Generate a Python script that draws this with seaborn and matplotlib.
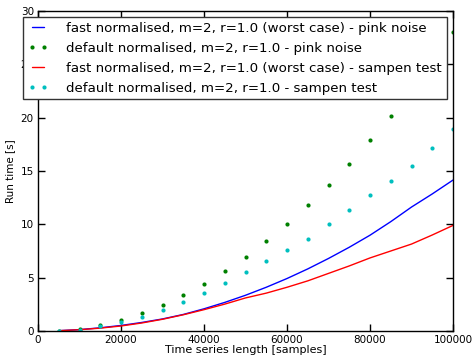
import numpy as np
import pandas as pd
import matplotlib
matplotlib.use("Agg")
import matplotlib.pyplot as plt
import seaborn as sns

# time series lengths (samples)
lengths = [5000, 10000, 15000, 20000, 25000, 30000, 35000, 40000, 45000, 50000,
           55000, 60000, 65000, 70000, 75000, 80000, 85000, 90000, 95000, 100000]

# run times [s]
fast_pink = [0.03, 0.13, 0.30, 0.52, 0.80, 1.13, 1.55, 2.08, 2.68, 3.35,
             4.10, 4.92, 5.82, 6.80, 7.85, 8.98, 10.25, 11.62, 12.85, 14.15]
default_pink = [0.03, 0.20, 0.56, 1.06, 1.69, 2.47, 3.37, 4.43, 5.62, 6.94,
                8.44, 10.03, 11.78, 13.68, 15.70, 17.87, 20.20, 23.0, 25.5, 28.0]
fast_sampen = [0.03, 0.12, 0.27, 0.47, 0.75, 1.10, 1.52, 2.00, 2.52, 3.10,
               3.55, 4.10, 4.70, 5.40, 6.10, 6.85, 7.50, 8.15, 9.00, 9.90]
default_sampen = [0.03, 0.13, 0.47, 0.84, 1.34, 1.94, 2.69, 3.53, 4.50, 5.53,
                  6.53, 7.56, 8.65, 10.03, 11.37, 12.75, 14.06, 15.47, 17.20, 18.90]

labels = [
    "fast normalised, m=2, r=1.0 (worst case) - pink noise",
    "default normalised, m=2, r=1.0 - pink noise",
    "fast normalised, m=2, r=1.0 (worst case) - sampen test",
    "default normalised, m=2, r=1.0 - sampen test",
]

sns.set_style("ticks")
plt.rcParams["font.family"] = ["DejaVu Sans"]
plt.rcParams["font.size"] = 7.5

df = pd.DataFrame({"n": lengths, "fp": fast_pink, "dp": default_pink,
                   "fs": fast_sampen, "ds": default_sampen})

fig = plt.figure(figsize=(4.75, 3.63), dpi=100)
ax = fig.add_axes([38 / 475, 1 - 331 / 363, 415 / 475, 320 / 363])

sns.lineplot(data=df, x="n", y="fp", color="b", lw=1, label=labels[0], ax=ax)
sns.lineplot(data=df, x="n", y="dp", color="g", linestyle="", marker="o",
             markersize=3, markeredgewidth=0, label=labels[1], ax=ax)
sns.lineplot(data=df, x="n", y="fs", color="r", lw=1, label=labels[2], ax=ax)
sns.lineplot(data=df, x="n", y="ds", color="c", linestyle="", marker="o",
             markersize=3, markeredgewidth=0, label=labels[3], ax=ax)

ax.set_xlim(0, 100000)
ax.set_ylim(0, 30)
ax.set_xticks([0, 20000, 40000, 60000, 80000, 100000])
ax.set_yticks([0, 5, 10, 15, 20, 25, 30])
ax.tick_params(which="major", direction="in", top=True, right=True,
               bottom=True, left=True, labelsize=7.5, length=5, width=1,
               color="black", labelcolor="black", pad=3)
for s in ax.spines.values():
    s.set_visible(True)
    s.set_color("black")
    s.set_linewidth(1)
ax.set_xlabel("Time series length [samples]", fontsize=8, labelpad=0, color="black")
ax.set_ylabel("Run time [s]", fontsize=7.5, labelpad=4, color="black")

leg = ax.legend(loc="upper left", bbox_to_anchor=(-0.036, 0.981), borderaxespad=0,
                numpoints=2, fancybox=False, framealpha=1, fontsize=9.6,
                handlelength=1.5, handletextpad=1.4, borderpad=0.35,
                labelspacing=0.52)
leg.get_frame().set_edgecolor("#333333")
leg.get_frame().set_linewidth(1)
for t in leg.get_texts():
    t.set_color("black")

fig.savefig("out.png", dpi=100)
